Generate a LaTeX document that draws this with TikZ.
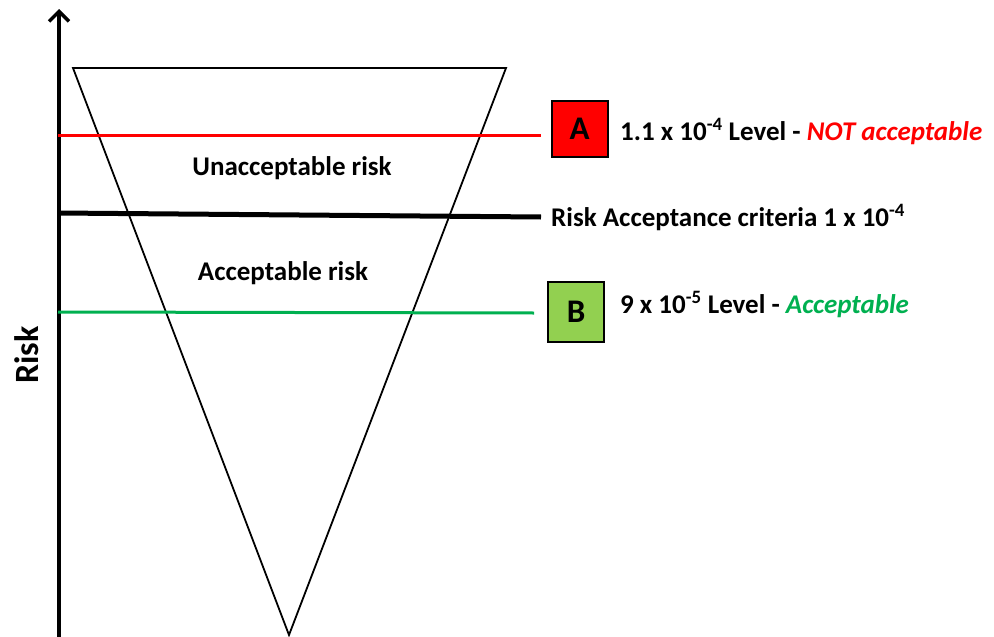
\documentclass[tikz,border=0pt]{standalone}
\usepackage{fontspec}
\setmainfont{Carlito}
\usetikzlibrary{arrows.meta}
\definecolor{riskred}{RGB}{255,0,0}
\definecolor{okgreen}{RGB}{0,176,80}
\definecolor{boxgreen}{RGB}{146,208,80}
\begin{document}
\begin{tikzpicture}[x=1pt,y=-1pt,
  lbl/.style={font=\fontsize{27}{32}\selectfont\bfseries, anchor=base west, inner sep=0pt},
  zone/.style={font=\fontsize{27}{32}\selectfont\bfseries, inner sep=0pt},
  levelbox/.style={draw=black, line width=2pt, minimum width=56pt, minimum height=56pt,
    inner sep=0pt, font=\fontsize{33}{38}\selectfont\bfseries}]
\useasboundingbox (0,0) rectangle (994,637);
% risk axis
\coordinate (ax0) at (59,637);
\coordinate (ax1) at (59,9);
\draw[line width=4pt, -{Straight Barb[length=10pt,width=20pt,line width=3.5pt]}] (ax0) -- (ax1);
\node[rotate=90, font=\fontsize{34}{40}\selectfont\bfseries] (risk) at (27,355) {Risk};
% inverted triangle
\coordinate (tl) at (73,68);
\coordinate (tr) at (506,68);
\coordinate (tb) at (289,635);
\draw[line width=1.8pt, line join=miter] (tl) -- (tr) -- (tb) -- cycle;
% level lines
\coordinate (rl) at (58,135); \coordinate (rr) at (541,135);
\coordinate (kl) at (58,213); \coordinate (kr) at (541,217);
\coordinate (gl) at (58,312); \coordinate (gr) at (534,313);
\draw[riskred, line width=3pt] (rl) -- (rr);
\draw[black, line width=5pt] (kl) -- (kr);
\draw[okgreen, line width=3pt] (gl) -- (gr);
% zone labels
\node[zone] (unacc) at (292,168) {Unacceptable risk};
\node[zone] (acc) at (283,273) {Acceptable risk};
% level markers
\node[levelbox, fill=riskred] (boxA) at (579.5,129) {A};
\node[levelbox, fill=boxgreen, minimum height=60pt] (boxB) at (576,311.5) {B};
\node[lbl] (txtA) at (620,140) {1.1 x 10\textsuperscript{-4} Level - \textcolor{riskred}{\itshape NOT acceptable}};
\node[lbl] (txtK) at (551,226) {Risk Acceptance criteria 1 x 10\textsuperscript{-4}};
\node[lbl] (txtB) at (620,313) {9 x 10\textsuperscript{-5} Level - \textcolor{okgreen}{\itshape Acceptable}};
\end{tikzpicture}
\end{document}
